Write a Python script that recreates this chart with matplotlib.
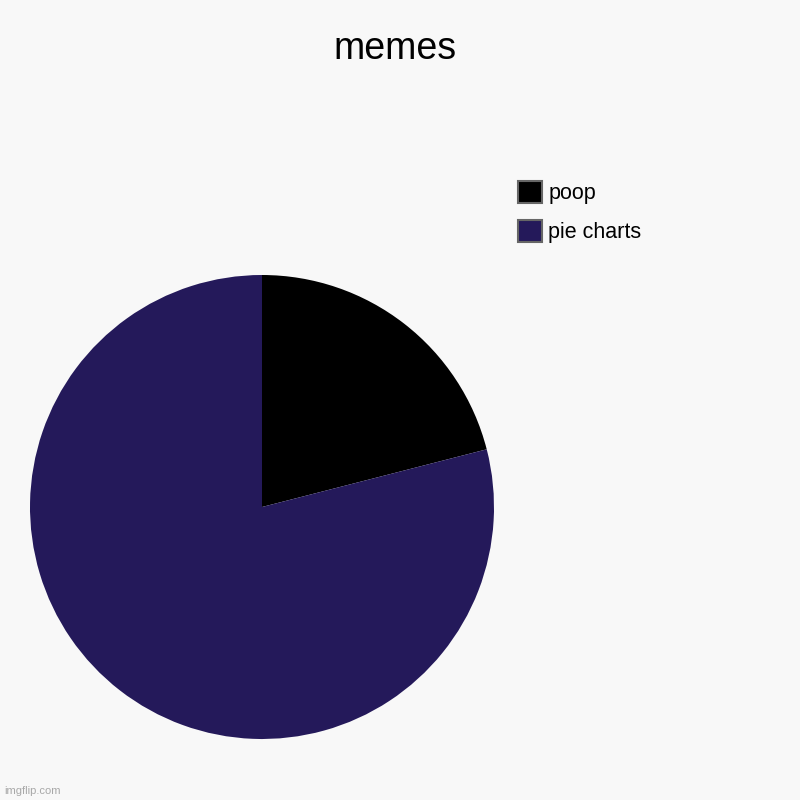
import matplotlib
matplotlib.use("Agg")
import matplotlib.pyplot as plt
from matplotlib.patches import Patch

title = "memes"
labels = ["poop", "pie charts"]
values = [21, 79]
colors = ["#000000", "#24195a"]

plt.rcParams['font.family'] = ['Liberation Sans', 'DejaVu Sans']
bg = "#f8f8f8"
fig = plt.figure(figsize=(8, 8), dpi=100, facecolor=bg)

# pie axes: centre (262,507), radius 232 px
ax = fig.add_axes([30/800, 61/800, 464/800, 464/800])
ax.set_facecolor(bg)
ax.pie(values, colors=colors, startangle=90, counterclock=False, radius=1,
       wedgeprops=dict(linewidth=0))
ax.set_xlim(-1, 1)
ax.set_ylim(-1, 1)
ax.set_aspect('equal')
ax.axis('off')

fig.text(395/800, 1 - 59/800, title, ha='center', va='baseline', fontsize=27)

handles = [Patch(facecolor=c, edgecolor='#666666', linewidth=1.5) for c in colors]
leg = fig.legend(handles, labels, loc='upper left',
                 bbox_to_anchor=(518/800, 1 - 181/800),
                 frameon=False, fontsize=15.5, handlelength=1.1,
                 handleheight=1.2, handletextpad=0.3, labelspacing=0.72,
                 borderaxespad=0, borderpad=0)

fig.text(4/800, 1 - 791/800, "imgflip.com", ha='left', va='center',
         fontsize=8, color='#a8a8a8')

fig.savefig("out.png", facecolor=bg)
